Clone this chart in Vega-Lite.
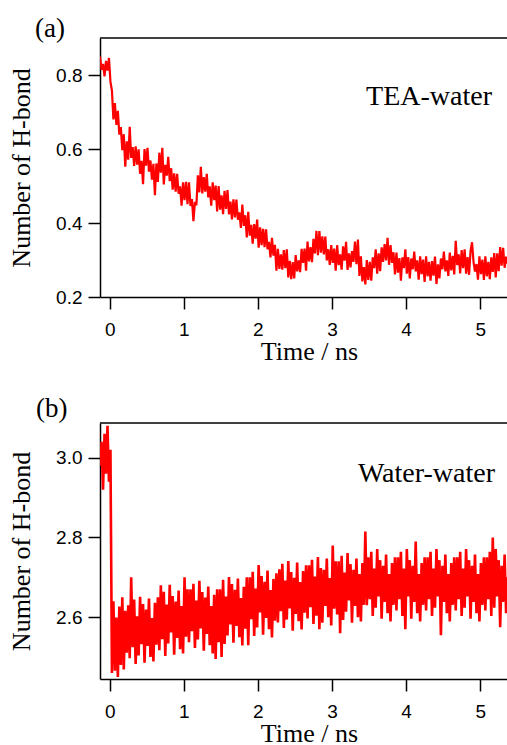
{
"$schema": "https://vega.github.io/schema/vega-lite/v6.json",
"padding": {"left": 7, "top": 15, "right": 0, "bottom": 0},
"background": "white",
"spacing": 31,
"datasets": {"ts": [
{"t":-0.13,"a":0.850,"b":2.98},{"t":-0.11,"a":0.814,"b":3.04},{"t":-0.09,"a":0.830,"b":2.92},{"t":-0.07,"a":0.796,"b":3.06},{"t":-0.05,"a":0.838,"b":2.96},
{"t":-0.03,"a":0.812,"b":3.08},{"t":-0.01,"a":0.846,"b":2.94},{"t":0.01,"a":0.782,"b":3.02},{"t":0.03,"a":0.758,"b":2.46},{"t":0.05,"a":0.680,"b":2.64},
{"t":0.07,"a":0.724,"b":2.466},{"t":0.09,"a":0.665,"b":2.599},{"t":0.11,"a":0.703,"b":2.45},{"t":0.13,"a":0.639,"b":2.627},{"t":0.15,"a":0.659,"b":2.48},
{"t":0.17,"a":0.597,"b":2.65},{"t":0.19,"a":0.640,"b":2.469},{"t":0.21,"a":0.552,"b":2.616},{"t":0.23,"a":0.621,"b":2.511},{"t":0.25,"a":0.571,"b":2.63},
{"t":0.27,"a":0.660,"b":2.497},{"t":0.29,"a":0.576,"b":2.70},{"t":0.31,"a":0.605,"b":2.525},{"t":0.33,"a":0.554,"b":2.644},{"t":0.35,"a":0.607,"b":2.483},
{"t":0.37,"a":0.558,"b":2.602},{"t":0.39,"a":0.599,"b":2.504},{"t":0.41,"a":0.533,"b":2.651},{"t":0.43,"a":0.568,"b":2.532},{"t":0.45,"a":0.505,"b":2.633},
{"t":0.47,"a":0.600,"b":2.486},{"t":0.49,"a":0.555,"b":2.619},{"t":0.51,"a":0.603,"b":2.528},{"t":0.53,"a":0.539,"b":2.647},{"t":0.55,"a":0.569,"b":2.50},
{"t":0.57,"a":0.517,"b":2.598},{"t":0.59,"a":0.560,"b":2.489},{"t":0.61,"a":0.475,"b":2.636},{"t":0.63,"a":0.561,"b":2.531},{"t":0.65,"a":0.511,"b":2.65},
{"t":0.67,"a":0.590,"b":2.517},{"t":0.69,"a":0.536,"b":2.68},{"t":0.71,"a":0.603,"b":2.545},{"t":0.73,"a":0.504,"b":2.664},{"t":0.75,"a":0.557,"b":2.503},
{"t":0.77,"a":0.528,"b":2.632},{"t":0.79,"a":0.579,"b":2.534},{"t":0.81,"a":0.513,"b":2.681},{"t":0.83,"a":0.548,"b":2.562},{"t":0.85,"a":0.490,"b":2.653},
{"t":0.87,"a":0.534,"b":2.506},{"t":0.89,"a":0.485,"b":2.639},{"t":0.91,"a":0.533,"b":2.548},{"t":0.93,"a":0.479,"b":2.667},{"t":0.95,"a":0.499,"b":2.52},
{"t":0.97,"a":0.447,"b":2.628},{"t":0.99,"a":0.510,"b":2.509},{"t":1.01,"a":0.462,"b":2.70},{"t":1.03,"a":0.511,"b":2.551},{"t":1.05,"a":0.451,"b":2.67},
{"t":1.07,"a":0.510,"b":2.537},{"t":1.09,"a":0.446,"b":2.67},{"t":1.11,"a":0.465,"b":2.565},{"t":1.13,"a":0.405,"b":2.684},{"t":1.15,"a":0.457,"b":2.523},
{"t":1.17,"a":0.448,"b":2.642},{"t":1.19,"a":0.529,"b":2.544},{"t":1.21,"a":0.483,"b":2.691},{"t":1.23,"a":0.552,"b":2.572},{"t":1.25,"a":0.480,"b":2.663},
{"t":1.27,"a":0.524,"b":2.516},{"t":1.29,"a":0.485,"b":2.649},{"t":1.31,"a":0.533,"b":2.558},{"t":1.33,"a":0.469,"b":2.677},{"t":1.35,"a":0.499,"b":2.53},
{"t":1.37,"a":0.447,"b":2.628},{"t":1.39,"a":0.510,"b":2.509},{"t":1.41,"a":0.462,"b":2.656},{"t":1.43,"a":0.501,"b":2.495},{"t":1.45,"a":0.431,"b":2.67},
{"t":1.47,"a":0.500,"b":2.537},{"t":1.49,"a":0.436,"b":2.67},{"t":1.51,"a":0.475,"b":2.50},{"t":1.53,"a":0.424,"b":2.694},{"t":1.55,"a":0.487,"b":2.533},
{"t":1.57,"a":0.438,"b":2.652},{"t":1.59,"a":0.489,"b":2.554},{"t":1.61,"a":0.423,"b":2.701},{"t":1.63,"a":0.458,"b":2.582},{"t":1.65,"a":0.410,"b":2.683},
{"t":1.67,"a":0.464,"b":2.536},{"t":1.69,"a":0.415,"b":2.669},{"t":1.71,"a":0.463,"b":2.578},{"t":1.73,"a":0.409,"b":2.697},{"t":1.75,"a":0.429,"b":2.55},
{"t":1.77,"a":0.387,"b":2.648},{"t":1.79,"a":0.450,"b":2.529},{"t":1.81,"a":0.392,"b":2.676},{"t":1.83,"a":0.421,"b":2.571},{"t":1.85,"a":0.361,"b":2.70},
{"t":1.87,"a":0.430,"b":2.53},{"t":1.89,"a":0.366,"b":2.70},{"t":1.91,"a":0.395,"b":2.595},{"t":1.93,"a":0.344,"b":2.714},{"t":1.95,"a":0.397,"b":2.553},
{"t":1.97,"a":0.358,"b":2.672},{"t":1.99,"a":0.409,"b":2.574},{"t":2.01,"a":0.333,"b":2.731},{"t":2.03,"a":0.388,"b":2.612},{"t":2.05,"a":0.340,"b":2.703},
{"t":2.07,"a":0.384,"b":2.556},{"t":2.09,"a":0.335,"b":2.689},{"t":2.11,"a":0.383,"b":2.598},{"t":2.13,"a":0.329,"b":2.717},{"t":2.15,"a":0.349,"b":2.57},
{"t":2.17,"a":0.307,"b":2.668},{"t":2.19,"a":0.360,"b":2.549},{"t":2.21,"a":0.312,"b":2.696},{"t":2.23,"a":0.341,"b":2.591},{"t":2.25,"a":0.271,"b":2.71},
{"t":2.27,"a":0.330,"b":2.587},{"t":2.29,"a":0.276,"b":2.72},{"t":2.31,"a":0.315,"b":2.615},{"t":2.33,"a":0.274,"b":2.734},{"t":2.35,"a":0.327,"b":2.573},
{"t":2.37,"a":0.278,"b":2.692},{"t":2.39,"a":0.329,"b":2.594},{"t":2.41,"a":0.253,"b":2.741},{"t":2.43,"a":0.298,"b":2.622},{"t":2.45,"a":0.248,"b":2.713},
{"t":2.47,"a":0.294,"b":2.566},{"t":2.49,"a":0.250,"b":2.699},{"t":2.51,"a":0.313,"b":2.608},{"t":2.53,"a":0.269,"b":2.737},{"t":2.55,"a":0.299,"b":2.59},
{"t":2.57,"a":0.267,"b":2.688},{"t":2.59,"a":0.330,"b":2.569},{"t":2.61,"a":0.292,"b":2.716},{"t":2.63,"a":0.331,"b":2.611},{"t":2.65,"a":0.271,"b":2.73},
{"t":2.67,"a":0.350,"b":2.597},{"t":2.69,"a":0.296,"b":2.73},{"t":2.71,"a":0.335,"b":2.625},{"t":2.73,"a":0.294,"b":2.744},{"t":2.75,"a":0.357,"b":2.583},
{"t":2.77,"a":0.318,"b":2.702},{"t":2.79,"a":0.379,"b":2.604},{"t":2.81,"a":0.313,"b":2.751},{"t":2.83,"a":0.378,"b":2.57},{"t":2.85,"a":0.320,"b":2.723},
{"t":2.87,"a":0.364,"b":2.586},{"t":2.89,"a":0.315,"b":2.719},{"t":2.91,"a":0.363,"b":2.628},{"t":2.93,"a":0.299,"b":2.747},{"t":2.95,"a":0.329,"b":2.60},
{"t":2.97,"a":0.287,"b":2.698},{"t":2.99,"a":0.340,"b":2.579},{"t":3.01,"a":0.292,"b":2.78},{"t":3.03,"a":0.331,"b":2.621},{"t":3.05,"a":0.271,"b":2.74},
{"t":3.07,"a":0.340,"b":2.607},{"t":3.09,"a":0.286,"b":2.74},{"t":3.11,"a":0.315,"b":2.56},{"t":3.13,"a":0.274,"b":2.754},{"t":3.15,"a":0.337,"b":2.593},
{"t":3.17,"a":0.298,"b":2.712},{"t":3.19,"a":0.349,"b":2.614},{"t":3.21,"a":0.273,"b":2.761},{"t":3.23,"a":0.318,"b":2.642},{"t":3.25,"a":0.280,"b":2.733},
{"t":3.27,"a":0.324,"b":2.586},{"t":3.29,"a":0.295,"b":2.719},{"t":3.31,"a":0.350,"b":2.628},{"t":3.33,"a":0.289,"b":2.747},{"t":3.35,"a":0.355,"b":2.60},
{"t":3.37,"a":0.257,"b":2.708},{"t":3.39,"a":0.310,"b":2.589},{"t":3.41,"a":0.242,"b":2.736},{"t":3.43,"a":0.281,"b":2.631},{"t":3.45,"a":0.234,"b":2.815},
{"t":3.47,"a":0.300,"b":2.63},{"t":3.49,"a":0.246,"b":2.75},{"t":3.51,"a":0.295,"b":2.645},{"t":3.53,"a":0.244,"b":2.764},{"t":3.55,"a":0.307,"b":2.603},
{"t":3.57,"a":0.278,"b":2.722},{"t":3.59,"a":0.329,"b":2.624},{"t":3.61,"a":0.263,"b":2.771},{"t":3.63,"a":0.318,"b":2.652},{"t":3.65,"a":0.270,"b":2.743},
{"t":3.67,"a":0.334,"b":2.596},{"t":3.69,"a":0.295,"b":2.729},{"t":3.71,"a":0.343,"b":2.638},{"t":3.73,"a":0.299,"b":2.757},{"t":3.75,"a":0.360,"b":2.61},
{"t":3.77,"a":0.287,"b":2.708},{"t":3.79,"a":0.340,"b":2.589},{"t":3.81,"a":0.292,"b":2.736},{"t":3.83,"a":0.321,"b":2.631},{"t":3.85,"a":0.261,"b":2.75},
{"t":3.87,"a":0.320,"b":2.617},{"t":3.89,"a":0.266,"b":2.75},{"t":3.91,"a":0.305,"b":2.645},{"t":3.93,"a":0.244,"b":2.764},{"t":3.95,"a":0.307,"b":2.603},
{"t":3.97,"a":0.278,"b":2.722},{"t":3.99,"a":0.329,"b":2.57},{"t":4.01,"a":0.263,"b":2.771},{"t":4.03,"a":0.308,"b":2.652},{"t":4.05,"a":0.250,"b":2.743},
{"t":4.07,"a":0.304,"b":2.596},{"t":4.09,"a":0.275,"b":2.729},{"t":4.11,"a":0.323,"b":2.638},{"t":4.13,"a":0.269,"b":2.79},{"t":4.15,"a":0.299,"b":2.61},
{"t":4.17,"a":0.247,"b":2.708},{"t":4.19,"a":0.310,"b":2.589},{"t":4.21,"a":0.262,"b":2.736},{"t":4.23,"a":0.301,"b":2.631},{"t":4.25,"a":0.241,"b":2.75},
{"t":4.27,"a":0.310,"b":2.617},{"t":4.29,"a":0.256,"b":2.75},{"t":4.31,"a":0.295,"b":2.645},{"t":4.33,"a":0.244,"b":2.764},{"t":4.35,"a":0.297,"b":2.603},
{"t":4.37,"a":0.258,"b":2.722},{"t":4.39,"a":0.309,"b":2.624},{"t":4.41,"a":0.235,"b":2.771},{"t":4.43,"a":0.288,"b":2.652},{"t":4.45,"a":0.250,"b":2.743},
{"t":4.47,"a":0.304,"b":2.555},{"t":4.49,"a":0.275,"b":2.729},{"t":4.51,"a":0.323,"b":2.638},{"t":4.53,"a":0.269,"b":2.757},{"t":4.55,"a":0.299,"b":2.61},
{"t":4.57,"a":0.257,"b":2.708},{"t":4.59,"a":0.320,"b":2.589},{"t":4.61,"a":0.272,"b":2.736},{"t":4.63,"a":0.311,"b":2.631},{"t":4.65,"a":0.261,"b":2.75},
{"t":4.67,"a":0.352,"b":2.617},{"t":4.69,"a":0.286,"b":2.75},{"t":4.71,"a":0.315,"b":2.645},{"t":4.73,"a":0.264,"b":2.764},{"t":4.75,"a":0.327,"b":2.603},
{"t":4.77,"a":0.278,"b":2.722},{"t":4.79,"a":0.329,"b":2.624},{"t":4.81,"a":0.263,"b":2.771},{"t":4.83,"a":0.308,"b":2.652},{"t":4.85,"a":0.260,"b":2.743},
{"t":4.87,"a":0.324,"b":2.596},{"t":4.89,"a":0.348,"b":2.729},{"t":4.91,"a":0.295,"b":2.638},{"t":4.93,"a":0.269,"b":2.757},{"t":4.95,"a":0.289,"b":2.61},
{"t":4.97,"a":0.247,"b":2.708},{"t":4.99,"a":0.310,"b":2.589},{"t":5.01,"a":0.262,"b":2.736},{"t":5.03,"a":0.301,"b":2.631},{"t":5.05,"a":0.246,"b":2.75},
{"t":5.07,"a":0.310,"b":2.617},{"t":5.09,"a":0.256,"b":2.75},{"t":5.11,"a":0.295,"b":2.645},{"t":5.13,"a":0.248,"b":2.764},{"t":5.15,"a":0.307,"b":2.603},
{"t":5.17,"a":0.268,"b":2.80},{"t":5.19,"a":0.319,"b":2.624},{"t":5.21,"a":0.253,"b":2.771},{"t":5.23,"a":0.318,"b":2.652},{"t":5.25,"a":0.270,"b":2.743},
{"t":5.27,"a":0.335,"b":2.575},{"t":5.29,"a":0.285,"b":2.729},{"t":5.31,"a":0.333,"b":2.638},{"t":5.33,"a":0.279,"b":2.757},{"t":5.35,"a":0.309,"b":2.61},
{"t":5.37,"a":0.290,"b":2.70}
]},
"config": {
  "view": {"stroke": null},
  "axis": {"grid": false, "domainColor": "black", "domainWidth": 1.5, "tickColor": "black", "tickWidth": 1.5, "tickSize": 12,
    "labelFont": "Liberation Sans", "labelFontSize": 19, "labelColor": "black", "labelFlush": false, "labelOverlap": false,
    "titleFont": "Liberation Serif", "titleFontSize": 26, "titleFontWeight": "normal", "titleColor": "black", "titleBaseline": "alphabetic"},
  "axisX": {"labelPadding": 11, "titleX": 209, "titleY": 62, "format": "d"},
  "axisY": {"labelPadding": 6, "titleX": -71, "format": ".1f"},
  "title": {"font": "Liberation Serif", "fontSize": 27, "fontWeight": "normal", "color": "black", "anchor": "start", "frame": "group", "baseline": "alphabetic"}
},
"vconcat": [
  {"width": 407, "height": 259,
   "title": {"text": "(a)", "dx": -65, "offset": -6},
   "layer": [
    {"data": {"name": "ts"},
     "mark": {"type": "line", "color": "#ff0000", "strokeWidth": 2.2, "clip": true},
     "encoding": {
       "x": {"field": "t", "type": "quantitative", "scale": {"domain": [-0.131, 5.362], "nice": false, "zero": false},
             "axis": {"title": "Time / ns", "values": [0, 1, 2, 3, 4, 5]}},
       "y": {"field": "a", "type": "quantitative", "scale": {"domain": [0.2, 0.9], "nice": false, "zero": false},
             "axis": {"title": "Number of H-bond", "values": [0.2, 0.4, 0.6, 0.8]}}
     }},
    {"data": {"values": [{}]},
     "mark": {"type": "rule", "color": "black", "strokeWidth": 1.5},
     "encoding": {"y": {"datum": 0.9, "type": "quantitative"}}},
    {"data": {"values": [{}]},
     "mark": {"type": "text", "font": "Liberation Serif", "fontSize": 28, "align": "right", "baseline": "alphabetic", "color": "black"},
     "encoding": {"x": {"datum": 5.16, "type": "quantitative"}, "y": {"datum": 0.719, "type": "quantitative"}, "text": {"value": "TEA-water"}}}
   ]},
  {"width": 407, "height": 256,
   "title": {"text": "(b)", "dx": -64, "offset": -1},
   "layer": [
    {"data": {"name": "ts"},
     "mark": {"type": "line", "color": "#ff0000", "strokeWidth": 2.6, "clip": true},
     "encoding": {
       "x": {"field": "t", "type": "quantitative", "scale": {"domain": [-0.131, 5.362], "nice": false, "zero": false},
             "axis": {"title": "Time / ns", "values": [0, 1, 2, 3, 4, 5]}},
       "y": {"field": "b", "type": "quantitative", "scale": {"domain": [2.445, 3.087], "nice": false, "zero": false},
             "axis": {"title": "Number of H-bond", "values": [2.6, 2.8, 3.0]}}
     }},
    {"data": {"values": [{}]},
     "mark": {"type": "rule", "color": "black", "strokeWidth": 1.5},
     "encoding": {"y": {"datum": 3.087, "type": "quantitative"}}},
    {"data": {"values": [{}]},
     "mark": {"type": "text", "font": "Liberation Serif", "fontSize": 28, "align": "right", "baseline": "alphabetic", "color": "black"},
     "encoding": {"x": {"datum": 5.20, "type": "quantitative"}, "y": {"datum": 2.94, "type": "quantitative"}, "text": {"value": "Water-water"}}}
   ]}
]
}
